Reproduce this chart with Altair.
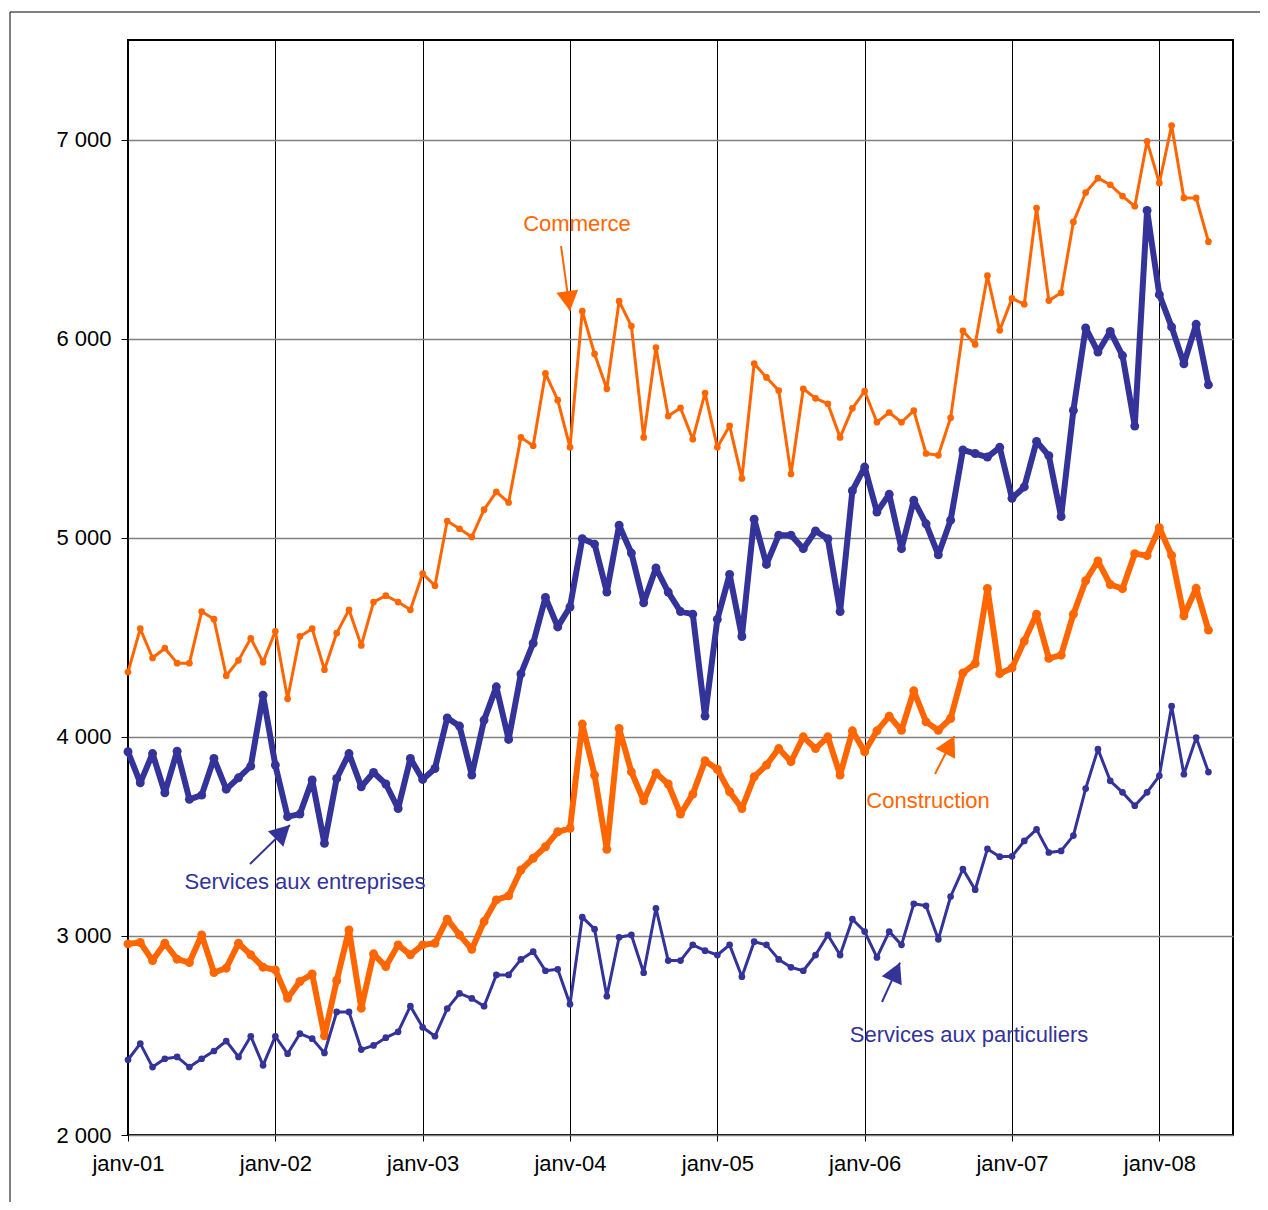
import math
import altair as alt
import pandas as pd

# Monthly data, janv-01 .. mai-08 (89 months)
commerce = [
    4325, 4543, 4396, 4445, 4370, 4370, 4629, 4591, 4307, 4384, 4495, 4375,
    4530, 4191, 4504, 4543, 4337, 4521, 4638, 4459, 4677, 4709, 4677, 4638,
    4820, 4759, 5084, 5045, 5004, 5141, 5230, 5177, 5504, 5462, 5825, 5691,
    5455, 6138, 5923, 5748, 6188, 6063, 5504, 5955, 5611, 5652, 5495, 5727,
    5455, 5562, 5298, 5875, 5805, 5739, 5320, 5748, 5700, 5673, 5504, 5650,
    5736, 5580, 5629, 5580, 5638, 5423, 5414, 5602, 6039, 5971, 6316, 6042,
    6202, 6173, 6656, 6191, 6230, 6586, 6734, 6806, 6773, 6716, 6665, 6991,
    6782, 7070, 6707, 6707, 6487,
]
entreprises = [
    3925, 3769, 3916, 3719, 3928, 3686, 3707, 3891, 3737, 3794, 3853, 4209,
    3858, 3599, 3612, 3783, 3465, 3791, 3916, 3749, 3821, 3763, 3640, 3891,
    3786, 3841, 4095, 4054, 3808, 4084, 4251, 3987, 4316, 4470, 4700, 4552,
    4652, 4995, 4968, 4727, 5063, 4923, 4673, 4848, 4727, 4629, 4616, 4104,
    4590, 4816, 4504, 5093, 4866, 5013, 5013, 4945, 5034, 4995, 4629, 5236,
    5355, 5129, 5218, 4945, 5188, 5070, 4914, 5088, 5441, 5423, 5405, 5454,
    5198, 5255, 5484, 5412, 5106, 5640, 6054, 5933, 6036, 5915, 5561, 6644,
    6221, 6059, 5874, 6072, 5768,
]
construction = [
    2960, 2967, 2876, 2963, 2883, 2866, 3005, 2816, 2838, 2963, 2905, 2843,
    2829, 2687, 2771, 2809, 2498, 2776, 3030, 2637, 2910, 2846, 2955, 2905,
    2955, 2963, 3084, 3005, 2933, 3072, 3181, 3201, 3331, 3390, 3448, 3523,
    3540, 4064, 3808, 3435, 4042, 3824, 3679, 3819, 3763, 3612, 3712, 3880,
    3837, 3724, 3640, 3799, 3858, 3941, 3875, 4000, 3941, 4000, 3808, 4030,
    3925, 4030, 4104, 4033, 4231, 4075, 4033, 4092, 4321, 4368, 4745, 4317,
    4346, 4481, 4616, 4394, 4410, 4616, 4784, 4883, 4765, 4744, 4920, 4910,
    5050, 4911, 4608, 4746, 4536,
]
particuliers = [
    2378, 2459, 2341, 2383, 2392, 2341, 2383, 2422, 2472, 2392, 2496, 2350,
    2496, 2408, 2509, 2484, 2412, 2618, 2618, 2429, 2450, 2489, 2518, 2647,
    2541, 2496, 2635, 2711, 2686, 2647, 2804, 2804, 2882, 2921, 2825, 2832,
    2657, 3094, 3034, 2697, 2993, 3005, 2815, 3139, 2876, 2876, 2955, 2926,
    2904, 2955, 2795, 2971, 2955, 2882, 2842, 2825, 2904, 3005, 2904, 3084,
    3022, 2892, 3022, 2955, 3161, 3151, 2983, 3198, 3336, 3232, 3437, 3398,
    3400, 3477, 3535, 3419, 3427, 3504, 3740, 3938, 3779, 3721, 3654, 3721,
    3804, 4154, 3812, 3996, 3823,
]

series_names = ["Commerce", "Services aux entreprises", "Construction", "Services aux particuliers"]
series_values = [commerce, entreprises, construction, particuliers]
series_colors = ["#FF6600", "#333399", "#FF6600", "#333399"]
series_widths = [3, 6, 6, 3]
series_sizes = [45, 80, 80, 45]

year_ticks = [0, 12, 24, 36, 48, 60, 72, 84]  # janv-01 .. janv-08 (month index)
y_ticks = [2000, 3000, 4000, 5000, 6000, 7000]

# annotations (month index, value)
ann_text = ["Commerce", "Services aux entreprises", "Construction", "Services aux particuliers"]
ann_t = [36.57, 14.42, 65.16, 68.5]
ann_v = [6576, 3271, 3678, 2502]
ann_color = ["#FF6600", "#333399", "#FF6600", "#333399"]

arrow_t0 = [35.27, 9.94, 65.73, 61.41]
arrow_v0 = [6465, 3361, 3813, 2668]
arrow_t1 = [36.0, 13.19, 67.31, 62.88]
arrow_v1 = [6139, 3557, 4004, 2866]

W, H = 1105, 1095
T_MAX = 90
Y_MIN, Y_MAX = 2000, 7500

ann_df = pd.DataFrame({"t": ann_t, "v": ann_v, "label": ann_text, "c": ann_color})

angles = []
for a0, b0, a1, b1 in zip(arrow_t0, arrow_v0, arrow_t1, arrow_v1):
    dx = (a1 - a0) * W / T_MAX
    dy = -(b1 - b0) * H / (Y_MAX - Y_MIN)
    angles.append(math.degrees(math.atan2(dx, -dy)) % 360)
arr_df = pd.DataFrame({"t0": arrow_t0, "v0": arrow_v0, "t1": arrow_t1, "v1": arrow_v1,
                       "c": ann_color, "ang": angles})

FONT = "Liberation Sans"

xscale = alt.Scale(domain=[0, T_MAX], nice=False, zero=False)
yscale = alt.Scale(domain=[Y_MIN, Y_MAX], nice=False, zero=False)

x_enc = alt.X("t:Q", scale=xscale, axis=alt.Axis(
    values=year_ticks, title=None, labelExpr="'janv-0' + (datum.value / 12 + 1)",
    grid=True, gridColor="#000000", gridWidth=1, domain=False,
    tickSize=6, tickColor="#000000", tickWidth=1, labelFlush=False,
    labelFont=FONT, labelFontSize=22, labelColor="#000000", labelPadding=12))
y_enc = alt.Y("value:Q", scale=yscale, axis=alt.Axis(
    values=y_ticks, title=None, labelExpr="replace(format(datum.value, ','), ',', ' ')",
    grid=True, gridColor="#808080", gridWidth=1.5, domain=False,
    tickSize=7, tickColor="#000000", tickWidth=1, labelFlush=False,
    labelFont=FONT, labelFontSize=22, labelColor="#000000", labelPadding=10))

layers = []
frame = alt.Chart(pd.DataFrame({"k": [0]})).mark_rect(fillOpacity=0, stroke="#000000", strokeWidth=1).encode(
    x=alt.value(-118), x2=alt.value(1300), y=alt.value(-28), y2=alt.value(1300))
layers.append(frame)

first = True
for name, vals, col, sw, sz in zip(series_names, series_values, series_colors, series_widths, series_sizes):
    sdf = pd.DataFrame({"t": list(range(len(vals))), "value": vals, "series": name})
    b = alt.Chart(sdf)
    if first:
        ln = b.mark_line(color=col, strokeWidth=sw, strokeJoin="round", strokeCap="round").encode(x=x_enc, y=y_enc)
        first = False
    else:
        ln = b.mark_line(color=col, strokeWidth=sw, strokeJoin="round", strokeCap="round").encode(x="t:Q", y="value:Q")
    pt = b.mark_circle(color=col, size=sz, opacity=1).encode(x="t:Q", y="value:Q")
    layers.extend([ln, pt])

texts = alt.Chart(ann_df).mark_text(font=FONT, fontSize=22, align="center", baseline="middle").encode(
    x="t:Q", y="v:Q", text="label:N", color=alt.Color("c:N", scale=None))
rules = alt.Chart(arr_df).mark_rule(strokeWidth=2).encode(
    x="t0:Q", y="v0:Q", x2="t1:Q", y2="v1:Q", color=alt.Color("c:N", scale=None))
heads = alt.Chart(arr_df).mark_point(shape="M0,0L-1.1,2L1.1,2Z", filled=True, size=400, opacity=1).encode(
    x="t1:Q", y="v1:Q", angle=alt.Angle("ang:Q", scale=None), color=alt.Color("c:N", scale=None))
layers.extend([rules, heads, texts])

chart = alt.layer(*layers).properties(
    width=W, height=H,
    autosize=alt.AutoSizeParams(type="none"),
    padding={"left": 120, "top": 32, "right": 27, "bottom": 67},
).configure(background="#ffffff").configure_view(stroke="#000000", strokeWidth=2)

chart.save("out.html", embed_options={"renderer": "svg", "actions": False})
